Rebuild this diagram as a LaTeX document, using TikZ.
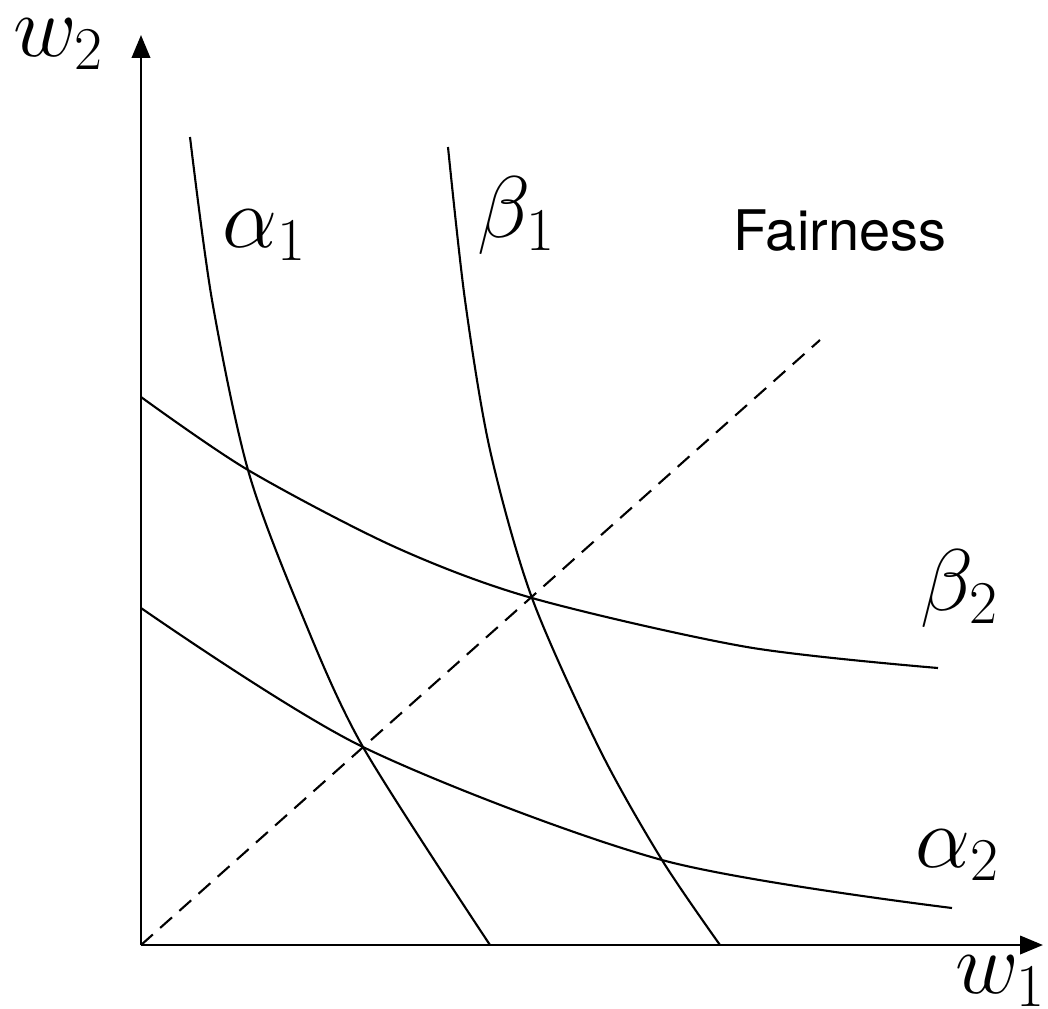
\documentclass[tikz,border=0pt]{standalone}
\usepackage{fontspec}
\newfontfamily\labelfont{TeX Gyre Heros}
\DeclareMathSizes{24}{24}{18.5}{13}
\usetikzlibrary{arrows.meta}

\begin{document}
\begin{tikzpicture}[x=0.01cm, y=-0.01cm, >={Triangle[length=6.5pt,width=5.2pt]},
          axis/.style={->, line width=0.75pt},
          curve/.style={line width=0.6pt},
          lbl/.style={anchor=base west, inner sep=0pt, font=\fontsize{24}{29}\selectfont},
          txt/.style={anchor=base west, inner sep=0pt, font=\labelfont\fontsize{15.9}{19}\selectfont}]
        \useasboundingbox (0,0) rectangle (1048,1008);
        \coordinate (o) at (141,945);
        \coordinate (xend) at (1043,945);
        \coordinate (yend) at (141,35);
        \draw[axis] (o) -- (xend);
        \draw[axis] (o) -- (yend);
        % fairness line
        \coordinate (fair) at (820,340);
        \draw[curve, dash pattern=on 4.5pt off 2.8pt] (o) -- (fair);
        % indifference curves
        \draw[curve] plot[smooth] coordinates {(190,137) (212,300) (248,470) (300,610) (363,747) (490,945)};
        \draw[curve] plot[smooth] coordinates {(448,147) (465,300) (490,450) (532,598) (600,750) (662,860) (720,945)};
        \draw[curve] plot[smooth] coordinates {(141,397) (248,470) (395,547) (532,598) (747,647) (938,668)};
        \draw[curve] plot[smooth] coordinates {(141,608) (363,747) (662,860) (952,908)};
        % labels
        \node[lbl] (w2) at (13,56) {$w_2$};
        \node[lbl] (w1) at (955,993) {$w_1$};
        \node[lbl] (a1) at (222,247) {$\alpha_1$};
        \node[lbl] (b1) at (477,237) {$\beta_1$};
        \node[lbl] (b2) at (920,610) {$\beta_2$};
        \node[lbl] (a2) at (915,867) {$\alpha_2$};
        \node[txt] (fairness) at (733,250) {Fairness};
\end{tikzpicture}
\end{document}
